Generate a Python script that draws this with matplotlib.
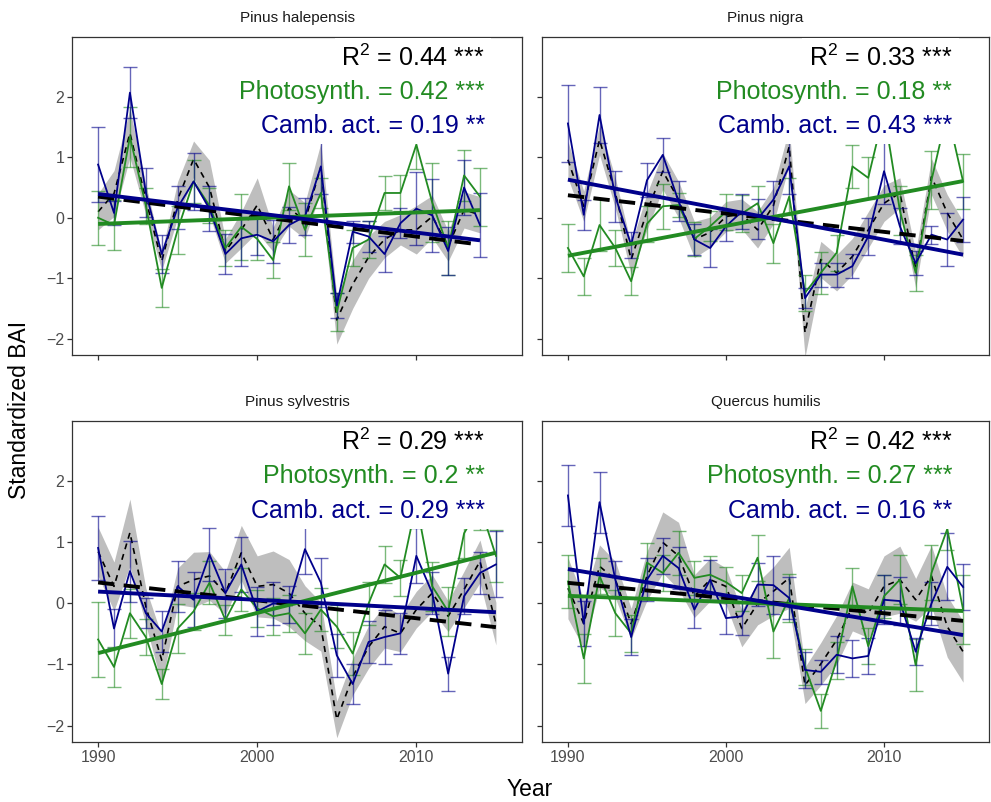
import numpy as np
import matplotlib
matplotlib.use("Agg")
import matplotlib.pyplot as plt

plt.rcParams['font.family'] = ['Liberation Sans', 'DejaVu Sans']
plt.rcParams['mathtext.fontset'] = 'custom'
plt.rcParams['mathtext.rm'] = 'Liberation Sans'

# ---------------- data ----------------
species = ["Pinus halepensis", "Pinus nigra", "Pinus sylvestris", "Quercus humilis"]
years_hal = list(range(1990, 2015))
years_all = list(range(1990, 2016))

# Pinus halepensis
hal_obs = [0.10, 0.40, 1.40, 0.30, -0.72, 0.30, 0.97, 0.50, -0.55, -0.20, 0.21, -0.36, 0.16,
           -0.05, 0.84, -1.69, -1.10, -0.65, -0.36, -0.20, -0.20, 0.02, -0.47, 0.13, 0.05]
hal_obs_se = [0.30, 0.38, 0.40, 0.25, 0.15, 0.30, 0.30, 0.45, 0.20, 0.30, 0.45, 0.20, 0.30,
              0.30, 0.40, 0.40, 0.40, 0.35, 0.30, 0.25, 0.40, 0.35, 0.25, 0.30, 0.30]
hal_photo = [0.00, -0.12, 1.34, 0.20, -1.16, -0.20, 0.60, 0.20, -0.50, -0.15, -0.35, -0.70, 0.52,
             -0.20, 0.41, -1.56, -0.50, -0.36, 0.41, 0.41, 1.21, 0.25, -0.50, 0.70, 0.35]
hal_photo_se = [0.45, 0.42, 0.50, 0.30, 0.32, 0.40, 0.36, 0.29, 0.30, 0.55, 0.35, 0.30, 0.39,
                0.44, 0.25, 0.32, 0.30, 0.30, 0.28, 0.30, 0.40, 0.65, 0.45, 0.42, 0.48]
hal_camb = [0.88, 0.08, 2.07, 0.42, -0.60, 0.17, 0.60, 0.15, -0.60, -0.34, -0.28, -0.39, -0.12,
            0.02, 0.85, -1.45, -0.23, -0.31, -0.60, -0.09, 0.15, 0.04, -0.55, 0.50, -0.12]
hal_camb_se = [0.62, 0.20, 0.42, 0.40, 0.32, 0.36, 0.47, 0.37, 0.33, 0.45, 0.33, 0.35, 0.30,
               0.30, 0.45, 0.20, 0.18, 0.25, 0.30, 0.25, 0.60, 0.60, 0.40, 0.45, 0.53]

# Pinus nigra
nig_obs = [0.96, 0.19, 1.29, 0.41, -0.69, 0.10, 0.77, 0.30, -0.36, -0.24, 0.02, 0.06, -0.20,
           0.20, 1.18, -1.90, -0.69, -0.91, -0.64, -0.20, 0.24, 0.41, -0.86, 0.68, 0.08, -0.36]
nig_obs_se = [0.30, 0.25, 0.25, 0.25, 0.25, 0.30, 0.30, 0.30, 0.30, 0.25, 0.25, 0.25, 0.30,
              0.30, 0.30, 0.40, 0.30, 0.30, 0.30, 0.30, 0.30, 0.25, 0.30, 0.30, 0.30, 0.30]
nig_photo = [-0.50, -0.97, -0.12, -0.50, -1.05, -0.10, 0.19, 0.21, -0.35, -0.14, 0.10, 0.07, 0.24,
             -0.42, 0.35, -1.24, -0.91, -0.58, 0.85, 0.66, 1.75, 0.12, -0.91, 0.62, 1.75, 0.60]
nig_photo_se = [0.39, 0.30, 0.43, 0.29, 0.23, 0.30, 0.37, 0.20, 0.28, 0.25, 0.30, 0.30, 0.28,
                0.32, 0.30, 0.30, 0.35, 0.30, 0.35, 0.35, 0.40, 0.40, 0.30, 0.48, 0.40, 0.45]
nig_camb = [1.56, 0.05, 1.70, 0.35, -0.45, 0.62, 1.04, 0.27, -0.36, -0.50, -0.14, 0.10, -0.02,
            0.30, 0.85, -1.33, -0.94, -0.94, -0.80, -0.31, 0.77, -0.14, -0.75, -0.28, -0.36, -0.03]
nig_camb_se = [0.63, 0.25, 0.47, 0.42, 0.22, 0.28, 0.28, 0.33, 0.25, 0.32, 0.25, 0.29, 0.33,
               0.30, 0.45, 0.17, 0.20, 0.20, 0.20, 0.30, 0.55, 0.30, 0.20, 0.15, 0.44, 0.37]

# Pinus sylvestris
syl_obs = [0.85, 0.28, 1.16, -0.05, -0.93, 0.28, 0.39, 0.45, 0.17, 0.83, 0.28, 0.31, 0.17,
           -0.16, -0.38, -1.90, -1.20, -0.71, -0.38, -0.49, -0.10, 0.17, -0.21, 0.23, 0.69, -0.33]
syl_obs_se = [0.40, 0.40, 0.55, 0.30, 0.40, 0.30, 0.45, 0.40, 0.35, 0.45, 0.50, 0.55, 0.55,
              0.45, 0.40, 0.30, 0.30, 0.35, 0.35, 0.30, 0.30, 0.30, 0.25, 0.30, 0.35, 0.35]
syl_photo = [-0.59, -1.04, -0.16, -0.55, -1.32, -0.41, -0.13, 0.34, -0.27, 0.23, -0.08, -0.21, -0.16,
             -0.49, -0.10, -0.38, -0.82, 0.00, 0.64, 0.42, 1.65, 0.28, -0.13, 1.15, 1.60, 0.78]
syl_photo_se = [0.62, 0.33, 0.40, 0.30, 0.25, 0.40, 0.30, 0.35, 0.25, 0.35, 0.30, 0.30, 0.30,
                0.33, 0.35, 0.35, 0.35, 0.35, 0.30, 0.30, 0.40, 0.40, 0.40, 0.40, 0.40, 0.42]
syl_camb = [0.91, -0.41, 0.53, -0.16, -0.46, 0.28, 0.06, 0.80, 0.17, 0.64, -0.13, 0.00, -0.02,
            0.89, 0.34, -0.85, -1.32, -0.63, -0.55, -0.49, 0.78, 0.17, -1.15, 0.12, 0.50, 0.64]
syl_camb_se = [0.52, 0.32, 0.50, 0.25, 0.33, 0.42, 0.45, 0.43, 0.40, 0.45, 0.40, 0.35, 0.30,
               0.40, 0.40, 0.35, 0.32, 0.35, 0.44, 0.33, 0.45, 0.35, 0.28, 0.30, 0.35, 0.54]

# Quercus humilis
que_obs = [0.25, -0.33, 0.61, 0.39, -0.33, 0.45, 1.00, 0.78, 0.12, 0.39, 0.28, -0.41, 0.00,
           0.20, 0.42, -1.34, -0.99, -0.60, -0.05, -0.16, 0.28, 0.39, 0.06, 0.45, -0.38, -0.79]
que_obs_se = [0.50, 0.40, 0.35, 0.30, 0.25, 0.40, 0.50, 0.55, 0.35, 0.35, 0.30, 0.30, 0.35,
              0.40, 0.50, 0.30, 0.35, 0.40, 0.40, 0.40, 0.50, 0.55, 0.35, 0.50, 0.50, 0.50]
que_photo = [0.36, -0.90, 0.45, -0.16, -0.49, 0.67, 0.50, 0.83, 0.42, 0.47, 0.35, 0.17, 0.75,
             -0.46, 0.09, -1.04, -1.76, -0.93, 0.28, -0.70, 0.12, 0.39, -1.01, 0.50, 1.22, -0.10]
que_photo_se = [0.43, 0.40, 0.30, 0.38, 0.30, 0.32, 0.30, 0.36, 0.28, 0.30, 0.25, 0.30, 0.38,
                0.44, 0.40, 0.30, 0.28, 0.30, 0.30, 0.30, 0.35, 0.40, 0.43, 0.45, 0.35, 0.57]
que_camb = [1.77, -0.33, 1.66, 0.39, -0.55, 0.39, 0.78, 0.58, -0.10, 0.39, -0.24, -0.21, 0.31,
            0.30, 0.09, -1.09, -1.12, -0.84, -0.90, -0.86, 0.06, 0.04, -0.79, 0.00, 0.60, 0.27]
que_camb_se = [0.50, 0.37, 0.50, 0.30, 0.30, 0.35, 0.30, 0.35, 0.30, 0.33, 0.26, 0.30, 0.35,
               0.47, 0.35, 0.30, 0.20, 0.30, 0.30, 0.30, 0.40, 0.40, 0.22, 0.35, 0.55, 0.37]

r2_obs = ["0.44 ***", "0.33 ***", "0.29 ***", "0.42 ***"]
r2_photo = ["0.42 ***", "0.18 **", "0.2 **", "0.27 ***"]
r2_camb = ["0.19 **", "0.43 ***", "0.29 ***", "0.16 **"]

panels = [
    (years_hal, hal_obs, hal_obs_se, hal_photo, hal_photo_se, hal_camb, hal_camb_se),
    (years_all, nig_obs, nig_obs_se, nig_photo, nig_photo_se, nig_camb, nig_camb_se),
    (years_all, syl_obs, syl_obs_se, syl_photo, syl_photo_se, syl_camb, syl_camb_se),
    (years_all, que_obs, que_obs_se, que_photo, que_photo_se, que_camb, que_camb_se),
]

# ---------------- styling ----------------
GREEN = '#228B22'
BLUE = '#00008B'
RIBBON = '#BEBEBE'
FRAME = '#333333'
TICKTXT = '#4D4D4D'

W, H = 991, 802
fig = plt.figure(figsize=(W / 100, H / 100), dpi=100)

# panel rectangles in pixels: (left, top, right, bottom)
rects = [(72, 37, 522, 355), (542, 37, 989, 355),
         (72, 421, 522, 742), (542, 421, 989, 742)]

for k, (rect, data) in enumerate(zip(rects, panels)):
    l, t, r, b = rect
    ax = fig.add_axes([l / W, 1 - b / H, (r - l) / W, (b - t) / H])
    yrs, obs, obs_se, photo, photo_se, camb, camb_se = [np.asarray(v, float) for v in data]

    ax.fill_between(yrs, obs - obs_se, obs + obs_se, color=RIBBON, lw=0, zorder=1)
    ax.plot(yrs, obs, color='black', lw=1.2, dashes=(3.6, 3.0), zorder=2)

    ax.errorbar(yrs, photo, yerr=photo_se, fmt='none', ecolor=GREEN, alpha=0.6,
                elinewidth=1.0, capsize=5, capthick=1.0, zorder=3)
    ax.errorbar(yrs, camb, yerr=camb_se, fmt='none', ecolor=BLUE, alpha=0.6,
                elinewidth=1.0, capsize=5, capthick=1.0, zorder=3)
    ax.plot(yrs, photo, color=GREEN, lw=1.3, zorder=4)
    ax.plot(yrs, camb, color=BLUE, lw=1.3, zorder=4)

    # linear trends
    for vals, col, kw in [(obs, 'black', dict(dashes=(4.2, 2.4))),
                          (photo, GREEN, {}), (camb, BLUE, {})]:
        coef = np.polyfit(yrs, vals, 1)
        ax.plot(yrs, np.polyval(coef, yrs), color=col, lw=2.8, zorder=5,
                solid_capstyle='butt', **kw)

    # statistics labels on white boxes
    box = dict(boxstyle='square,pad=0.25', fc='white', ec='none')
    ax.text(0.918, 0.909, r'$\mathregular{R^2}$ = ' + r2_obs[k], transform=ax.transAxes,
            ha='right', va='baseline', fontsize=18, color='black', bbox=box, zorder=12)
    ax.text(0.918, 0.806, 'Photosynth. = ' + r2_photo[k], transform=ax.transAxes,
            ha='right', va='baseline', fontsize=18, color=GREEN, bbox=box, zorder=11)
    ax.text(0.918, 0.699, 'Camb. act. = ' + r2_camb[k], transform=ax.transAxes,
            ha='right', va='baseline', fontsize=18, color=BLUE, bbox=box, zorder=10)

    ax.set_xlim(1988.36, 2016.64)
    ax.set_ylim(-2.27, 2.99)
    ax.set_xticks([1990, 2000, 2010])
    ax.set_yticks([-2, -1, 0, 1, 2])
    ax.tick_params(length=3.5, width=0.9, color=FRAME, labelcolor=TICKTXT, labelsize=11.5,
                   pad=2)
    if k < 2:
        ax.tick_params(labelbottom=False)
    if k % 2 == 1:
        ax.tick_params(labelleft=False)
    for s in ax.spines.values():
        s.set_color(FRAME)
        s.set_linewidth(0.9)

    fig.text((l + r) / 2 / W, 1 - (t - 19) / H, species[k], ha='center', va='center',
             fontsize=11, color='#1A1A1A')

fig.text(530 / W, 1 - 790 / H, 'Year', ha='center', va='center', fontsize=16.5)
fig.text(20 / W, 1 - 410 / H, 'Standardized BAI', ha='center', va='center',
         rotation=90, fontsize=16.5)

fig.savefig('out.png', dpi=100)
